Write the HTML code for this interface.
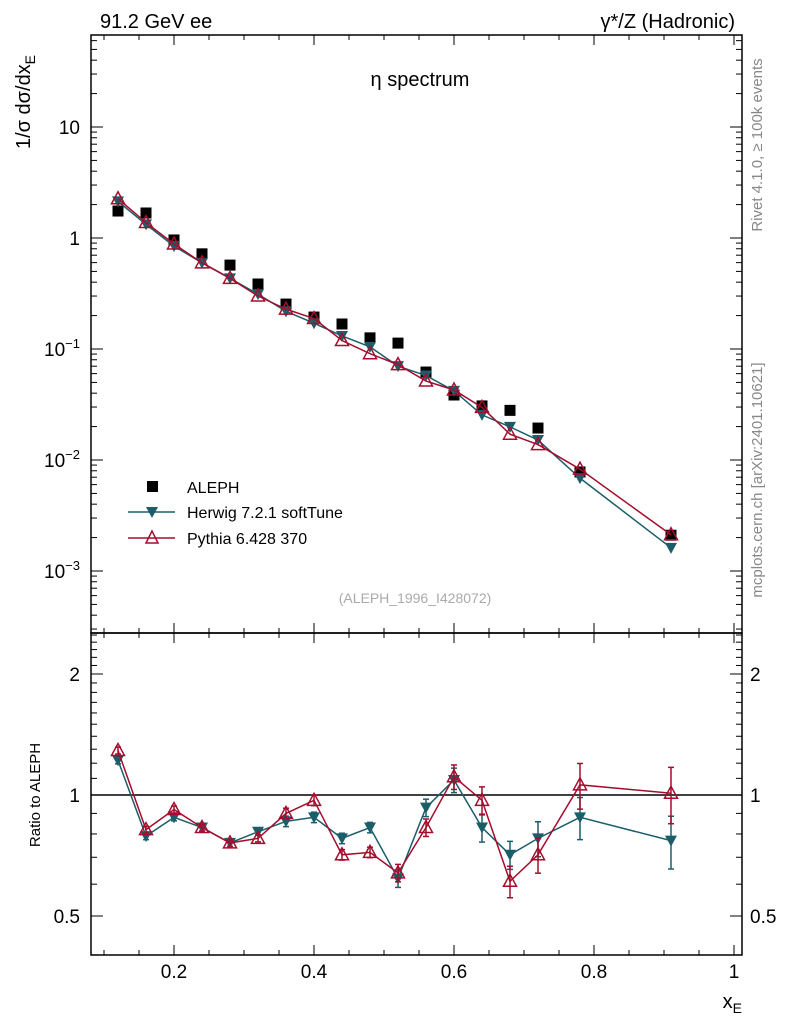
<!DOCTYPE html>
<html><head><meta charset="utf-8"><style>
body{margin:0;background:#fff;}
svg text{font-family:"Liberation Sans",sans-serif;}
</style></head><body>
<svg id="c" width="786" height="1024" xmlns="http://www.w3.org/2000/svg">
<text x="100" y="28" font-size="20">91.2 GeV ee</text>
<text x="735" y="28" font-size="20" text-anchor="end">γ*/Z (Hadronic)</text>
<text x="420" y="86" font-size="20" text-anchor="middle">η spectrum</text>
<text transform="translate(30,102) rotate(-90)" font-size="20" text-anchor="middle">1/σ   dσ/dx<tspan font-size="14" dy="5">E</tspan></text>
<text transform="translate(40,795) rotate(-90)" font-size="15" text-anchor="middle">Ratio to ALEPH</text>
<text x="742" y="1008" font-size="20" text-anchor="end">x<tspan font-size="14" dy="5">E</tspan></text>
<text transform="translate(762,145) rotate(-90)" font-size="15" fill="#888" text-anchor="middle">Rivet 4.1.0, ≥ 100k events</text>
<text transform="translate(762,480) rotate(-90)" font-size="15" fill="#888" text-anchor="middle">mcplots.cern.ch [arXiv:2401.10621]</text>
<text x="415" y="603" font-size="14" fill="#aaa" text-anchor="middle">(ALEPH_1996_I428072)</text>
<g id="g"></g>
<g>
<rect x="147" y="481" width="11" height="11" fill="#000"/>
<text x="187" y="493" font-size="16">ALEPH</text>
<line x1="128" y1="512" x2="175" y2="512" stroke="#1b5e6a" stroke-width="1.5"/>
<polygon points="146,507 158,507 152,518" fill="#1b5e6a"/>
<text x="187" y="518" font-size="16">Herwig 7.2.1 softTune</text>
<line x1="128" y1="538" x2="175" y2="538" stroke="#a50d2d" stroke-width="1.5"/>
<polygon points="152,531 146,543 158,543" fill="none" stroke="#a50d2d" stroke-width="1.5"/>
<text x="187" y="544" font-size="16">Pythia 6.428 370</text>
</g>
</svg>
<script>
const xs=[0.12,0.16,0.2,0.24,0.28,0.32,0.36,0.40,0.44,0.48,0.52,0.56,0.60,0.64,0.68,0.72,0.78,0.91];
const aleph=[1.75,1.68,0.96,0.72,0.57,0.385,0.254,0.194,0.168,0.126,0.113,0.062,0.0385,0.0307,0.028,0.0194,0.0078,0.0021];
const herwigRatio=[1.22,0.79,0.88,0.83,0.76,0.81,0.86,0.88,0.78,0.83,0.62,0.93,1.09,0.83,0.71,0.78,0.88,0.77];
const pythiaRatio=[1.29,0.82,0.92,0.83,0.76,0.78,0.90,0.97,0.71,0.72,0.64,0.83,1.11,0.97,0.61,0.71,1.06,1.01];
const herwigErr=[0.02,0.02,0.02,0.02,0.02,0.02,0.03,0.03,0.03,0.03,0.05,0.05,0.07,0.08,0.08,0.1,0.12,0.15];
const pythiaErr=[0.02,0.02,0.02,0.02,0.02,0.02,0.03,0.03,0.03,0.03,0.05,0.05,0.07,0.08,0.09,0.1,0.13,0.16];
const xTicks=[0.2,0.4,0.6,0.8,1];
const yDecades=[-3,-2,-1,0,1];
const ratioTicks=[0.5,1,2];

const X=v=>174+(v-0.2)*700;
const Y=v=>238-111*Math.log10(v);
const R=v=>795-402*Math.log10(v);
const L=91,Rt=742,T=35,M=633,B=955;
const g=document.getElementById('g');
const NS='http://www.w3.org/2000/svg';
function el(t,a,p){const e=document.createElementNS(NS,t);for(const k in a)e.setAttribute(k,a[k]);(p||g).appendChild(e);return e;}
function ln(x1,y1,x2,y2,c,w){return el('line',{x1,y1,x2,y2,stroke:c||'#000','stroke-width':w||1});}
let f1=el('rect',{x:L,y:T,width:Rt-L,height:M-T,fill:'none',stroke:'#000','stroke-width':1.5});


let f2=el('rect',{x:L,y:M,width:Rt-L,height:B-M,fill:'none',stroke:'#000','stroke-width':1.5});


for(let v=0.1;v<=1.0001;v+=0.05){const x=X(v);const maj=Math.abs(v/0.2-Math.round(v/0.2))<1e-6;const l=maj?10:5;
 ln(x,B,x,B-l);ln(x,M,x,M+l);ln(x,M,x,M-l);ln(x,T,x,T+l);}
xTicks.forEach(v=>{const t=el('text',{x:X(v),y:978,'font-size':19,'text-anchor':'middle'});t.textContent=String(v);
 
 });
for(let d=-4;d<=1;d++){for(let k=1;k<10;k++){const v=k*Math.pow(10,d);const y=Y(v);if(y<T||y>M)continue;const l=k==1?12:6;ln(L,y,L+l,y);ln(Rt,y,Rt-l,y);}}
yDecades.forEach(d=>{const y=Y(Math.pow(10,d));const t=el('text',{x:80,y:y+7,'font-size':19,'text-anchor':'end'});
 if(d==0)t.textContent='1';else if(d==1)t.textContent='10';else{t.textContent='10';const s=el('tspan',{dy:-8,'font-size':13},t);s.textContent='−'+(-d);}
 
 });
for(let v=0.4;v<=2.6;v+=0.1){const y=R(v);if(y<M||y>B)continue;const maj=ratioTicks.some(r=>Math.abs(r-v)<1e-6);const l=maj?12:6;ln(L,y,L+l,y);ln(Rt,y,Rt-l,y);}
ratioTicks.forEach(v=>{const y=R(v);const t1=el('text',{x:80,y:y+7,'font-size':19,'text-anchor':'end'});t1.textContent=String(v);
 
 
 const t2=el('text',{x:750,y:y+7,'font-size':19});t2.textContent=String(v);
 
 });
ln(L,R(1),Rt,R(1),'#000',1.5);
function series(ratio,err,col,name,filled){
 const mainPts=xs.map((x,i)=>[X(x),Y(aleph[i]*ratio[i])]);
 const rPts=xs.map((x,i)=>[X(x),R(ratio[i])]);
 const p1=el('polyline',{points:mainPts.map(p=>p.join(',')).join(' '),fill:'none',stroke:col,'stroke-width':1.5});
 
 
 const p2=el('polyline',{points:rPts.map(p=>p.join(',')).join(' '),fill:'none',stroke:col,'stroke-width':1.5});
 
 
 xs.forEach((x,i)=>{
  const cx=X(x);
  const y1=R(ratio[i]*(1+err[i])),y2=R(ratio[i]*(1-err[i]));
  ln(cx,y1,cx,y2,col,1.5);ln(cx-3,y1,cx+3,y1,col,1.5);ln(cx-3,y2,cx+3,y2,col,1.5);
  [[cx,Y(aleph[i]*ratio[i])],[cx,R(ratio[i])]].forEach(([a,b],j)=>{
   let m;
   if(filled)m=el('polygon',{points:`${a-6},${b-5} ${a+6},${b-5} ${a},${b+6}`,fill:col});
   else m=el('polygon',{points:`${a},${b-7} ${a-6.5},${b+5} ${a+6.5},${b+5}`,fill:'none',stroke:col,'stroke-width':1.5});
   
   
  });
 });
}
xs.forEach((x,i)=>{const r=el('rect',{x:X(x)-5.5,y:Y(aleph[i])-5.5,width:11,height:11,fill:'#000'});
 
 });
series(herwigRatio,herwigErr,'#1b5e6a','herwig',true);
series(pythiaRatio,pythiaErr,'#a50d2d','pythia',false);
</script>
</body></html>
